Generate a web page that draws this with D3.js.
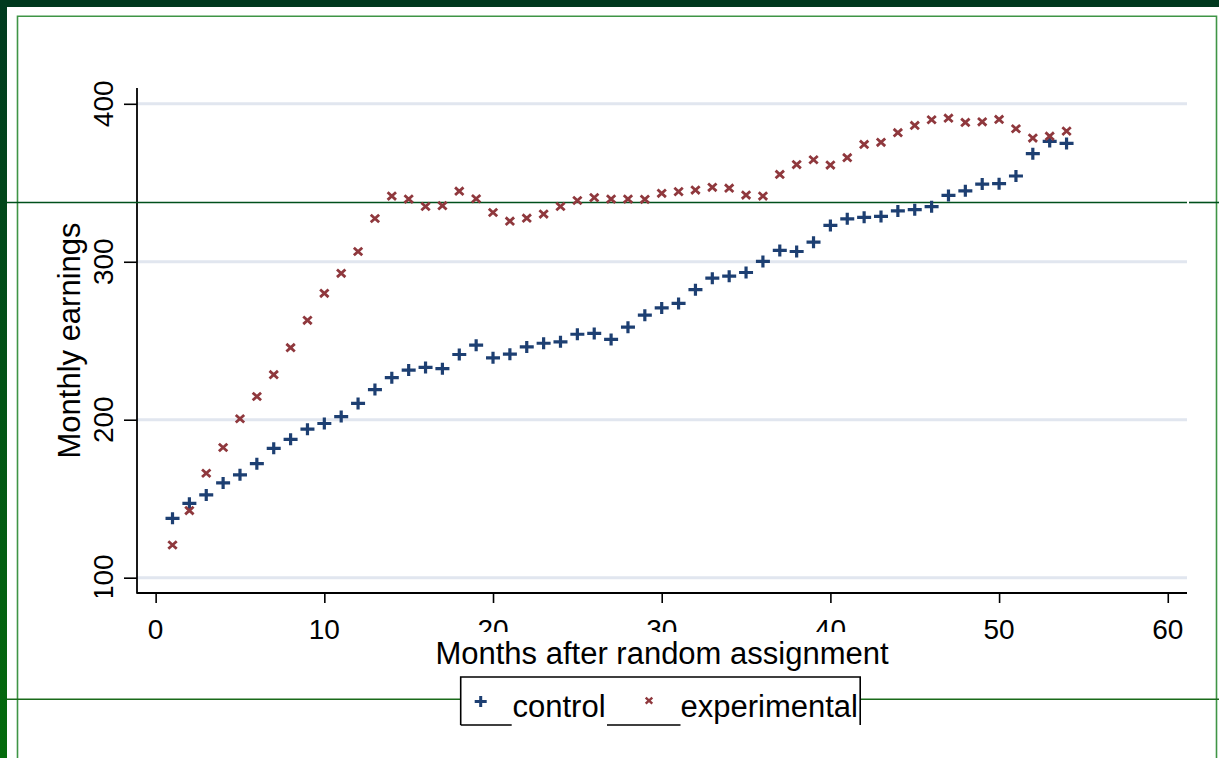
<!DOCTYPE html>
<html>
<head>
<meta charset="utf-8">
<script src="https://cdn.jsdelivr.net/npm/d3@7"></script>
<style>
  html, body { margin: 0; padding: 0; background: #ffffff; }
  svg { display: block; }
  text { font-family: "Liberation Sans", Arial, Helvetica, sans-serif; fill: #000; }
</style>
</head>
<body>
<svg id="chart" width="1219" height="758"></svg>
<script>
// ---- Data ----
const months = d3.range(1, 55);
const control = [137.6,147.1,152.4,160.0,165.1,172.2,181.9,187.6,194.0,197.6,
  202.0,210.3,219.1,226.6,231.4,233.1,232.3,241.3,247.2,239.2,
  241.5,246.1,248.4,249.3,254.1,254.6,250.8,258.6,266.2,270.8,
  273.6,282.3,289.6,290.9,293.2,300.2,307.2,306.5,312.4,323.0,
  327.2,328.1,328.7,332.2,333.0,334.9,342.0,344.9,349.2,349.4,
  354.3,368.4,376.2,374.9];
const experimental = [120.7,142.5,166.1,182.4,200.6,214.7,228.5,245.6,262.9,280.0,
  292.7,306.5,327.4,341.6,339.7,335.0,335.5,344.7,339.9,331.2,
  325.7,327.6,330.2,335.0,338.8,340.6,339.7,339.7,339.5,343.3,
  344.4,345.4,347.1,346.6,342.2,341.6,355.3,361.5,364.6,361.2,
  365.9,374.3,375.6,381.7,386.3,389.9,390.9,388.2,388.6,390.1,
  384.2,378.3,379.5,382.7];
const xTicks = [0, 10, 20, 30, 40, 50, 60];
const yTicks = [100, 200, 300, 400];
const seriesNames = ["control", "experimental"];
const xTitle = "Months after random assignment";
const yTitle = "Monthly earnings";

// ---- Layout ----
const svg = d3.select("#chart");
const W = 1219, H = 758;
const plot = { left: 137, right: 1187, top: 88, bottom: 593 };
const navy = "#1d3f72", maroon = "#8f383d";

const x = d3.scaleLinear().domain([-1.105, 61.14]).range([plot.left, plot.right]);
const y = d3.scaleLinear().domain([90.3, 410]).range([plot.bottom, plot.top]);

// ---- Slide frame artefacts ----
const defs = svg.append("defs");
const grad = defs.append("linearGradient").attr("id", "leftStrip")
  .attr("x1", 0).attr("y1", 0).attr("x2", 0).attr("y2", 1);
grad.append("stop").attr("offset", "0%").attr("stop-color", "#003a1f");
grad.append("stop").attr("offset", "100%").attr("stop-color", "#046b0c");

svg.append("rect").attr("x", 0).attr("y", 0).attr("width", W).attr("height", 7).attr("fill", "#00391e");
svg.append("rect").attr("x", 0).attr("y", 0).attr("width", 7).attr("height", H).attr("fill", "url(#leftStrip)");
// inner frame
svg.append("path")
  .attr("d", `M17.5,${H}V16.2H1216.5V${H}`)
  .attr("fill", "none").attr("stroke", "#3f9546").attr("stroke-width", 1.6);

// ---- Gridlines ----
svg.append("g").selectAll("line").data(yTicks).join("line")
  .attr("x1", plot.left).attr("x2", plot.right)
  .attr("y1", d => y(d)).attr("y2", d => y(d))
  .attr("stroke", "#e1e6ef").attr("stroke-width", 3);

// ---- Axes ----
const yAxis = svg.append("g").attr("transform", `translate(${plot.left},0)`)
  .call(d3.axisLeft(y).tickValues(yTicks).tickSize(13).tickSizeOuter(0).tickFormat(d3.format("d")));
yAxis.select(".domain").remove();
yAxis.selectAll(".tick line").attr("stroke", "#000").attr("stroke-width", 1.6);
yAxis.selectAll(".tick text").remove();

svg.append("line").attr("x1", plot.left).attr("x2", plot.left)
  .attr("y1", plot.top).attr("y2", plot.bottom + 0.8)
  .attr("stroke", "#000").attr("stroke-width", 1.8);

const xAxis = svg.append("g").attr("transform", `translate(0,${plot.bottom})`)
  .call(d3.axisBottom(x).tickValues(xTicks).tickSize(10).tickSizeOuter(0).tickFormat(d3.format("d")));
xAxis.select(".domain").remove();
xAxis.selectAll(".tick line").attr("stroke", "#000").attr("stroke-width", 1.6);
xAxis.selectAll(".tick text").remove();

svg.append("line").attr("x1", plot.left).attr("x2", plot.right)
  .attr("y1", plot.bottom).attr("y2", plot.bottom)
  .attr("stroke", "#000").attr("stroke-width", 1.8);

// y tick labels (rotated), clipped at the bottom like the reference
defs.append("clipPath").attr("id", "yLabClip").append("rect")
  .attr("x", 0).attr("y", 0).attr("width", 140).attr("height", 597);
svg.append("g").attr("clip-path", "url(#yLabClip)")
  .selectAll("text").data(yTicks).join("text")
  .attr("transform", d => `translate(113,${y(d)}) rotate(-90)`)
  .attr("text-anchor", "middle").attr("font-size", 28)
  .text(d => d3.format("d")(d));

// x tick labels
svg.append("g").selectAll("text").data(xTicks).join("text")
  .attr("x", d => x(d)).attr("y", 639)
  .attr("text-anchor", "middle").attr("font-size", 28)
  .text(d => d3.format("d")(d));

// ---- Green guide lines across the slide ----
svg.append("line").attr("x1", 7).attr("x2", 1187).attr("y1", 202.5).attr("y2", 202.5)
  .attr("stroke", "#00501c").attr("stroke-width", 1.6);
svg.append("line").attr("x1", 1189).attr("x2", W).attr("y1", 202.5).attr("y2", 202.5)
  .attr("stroke", "#00501c").attr("stroke-width", 1.6);
svg.append("line").attr("x1", 7).attr("x2", W).attr("y1", 699.3).attr("y2", 699.3)
  .attr("stroke", "#1a6a1a").attr("stroke-width", 1.4);

// ---- Markers ----
const plusPath = "M-7,0H7M0,-6V6";
const crossPath = "M-4.2,-3.8L4.2,3.8M-4.2,3.8L4.2,-3.8";

svg.append("g").selectAll("path").data(months.map((m, i) => [m, control[i]])).join("path")
  .attr("transform", d => `translate(${x(d[0])},${y(d[1])})`)
  .attr("d", plusPath).attr("stroke", navy).attr("stroke-width", 3.2).attr("fill", "none");

svg.append("g").selectAll("path").data(months.map((m, i) => [m, experimental[i]])).join("path")
  .attr("transform", d => `translate(${x(d[0])},${y(d[1])})`)
  .attr("d", crossPath).attr("stroke", maroon).attr("stroke-width", 2.8).attr("fill", "none");

// ---- Axis titles ----
svg.append("rect").attr("x", 430).attr("y", 632).attr("width", 463).attr("height", 38).attr("fill", "#fff");
svg.append("text").attr("x", (plot.left + plot.right) / 2).attr("y", 664)
  .attr("text-anchor", "middle").attr("font-size", 31).text(xTitle);
svg.append("text").attr("transform", `translate(79.5,${(plot.top + plot.bottom) / 2}) rotate(-90)`)
  .attr("text-anchor", "middle").attr("font-size", 31).text(yTitle);

// ---- Legend ----
const lg = svg.append("g");
lg.append("rect").attr("x", 460.7).attr("y", 677).attr("width", 399.5).attr("height", 48).attr("fill", "#fff");
lg.append("path")
  .attr("d", "M460.7,725V677H860.2V725M460.7,725H511.7M607,725H680.5")
  .attr("fill", "none").attr("stroke", "#000").attr("stroke-width", 1.6);
lg.append("path").attr("transform", "translate(480.7,701.5)")
  .attr("d", "M-6,0H6M0,-5.5V5.5").attr("stroke", navy).attr("stroke-width", 3).attr("fill", "none");
lg.append("path").attr("transform", "translate(649,700.7)")
  .attr("d", "M-3.3,-3L3.3,3M-3.3,3L3.3,-3").attr("stroke", maroon).attr("stroke-width", 2.4).attr("fill", "none");
lg.append("text").attr("x", 512.5).attr("y", 717).attr("font-size", 31).text(seriesNames[0]);
lg.append("text").attr("x", 680.5).attr("y", 717).attr("font-size", 31).text(seriesNames[1]);
</script>
</body>
</html>
